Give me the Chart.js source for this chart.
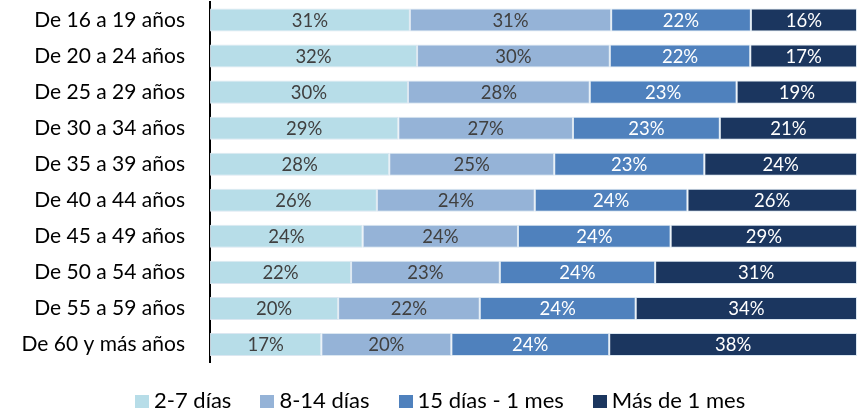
<!DOCTYPE html>
<html>
<head>
<meta charset="utf-8">
<script src="https://cdn.jsdelivr.net/npm/chart.js@4/dist/chart.umd.min.js"></script>
<style>
  html, body { margin: 0; padding: 0; background: #ffffff; }
  #wrap { width: 860px; height: 410px; position: relative; overflow: hidden; }
  #legend { position: absolute; left: 135px; top: 388px; height: 24px; display: flex; gap: 29px;
            font-family: Lato, sans-serif; font-size: 22px; line-height: 24px; color: #000; white-space: nowrap; }
  .item { display: flex; align-items: center; }
  .box { width: 14px; height: 13px; margin-right: 5px; margin-top: 3px; }
</style>
</head>
<body>
<div id="wrap"><canvas id="c" width="860" height="410"></canvas><div id="legend"></div></div>
<script>
const categories = [
  "De 16 a 19 años", "De 20 a 24 años", "De 25 a 29 años", "De 30 a 34 años",
  "De 35 a 39 años", "De 40 a 44 años", "De 45 a 49 años", "De 50 a 54 años",
  "De 55 a 59 años", "De 60 y más años"
];
const seriesNames = ["2-7 días", "8-14 días", "15 días - 1 mes", "Más de 1 mes"];
const s1 = [30.9, 32.0, 30.6, 29.1, 27.7, 25.8, 23.6, 21.8, 19.8, 17.2];
const s2 = [31.1, 29.8, 28.1, 27.0, 25.5, 24.4, 24.0, 23.0, 21.9, 20.1];
const s3 = [21.6, 21.7, 22.7, 22.7, 23.2, 23.6, 23.6, 24.0, 24.1, 24.4];
const s4 = [16.4, 16.5, 18.6, 21.2, 23.6, 26.2, 28.8, 31.2, 34.2, 38.3];
const labels1 = ["31%", "32%", "30%", "29%", "28%", "26%", "24%", "22%", "20%", "17%"];
const labels2 = ["31%", "30%", "28%", "27%", "25%", "24%", "24%", "23%", "22%", "20%"];
const labels3 = ["22%", "22%", "23%", "23%", "23%", "24%", "24%", "24%", "24%", "24%"];
const labels4 = ["16%", "17%", "19%", "21%", "24%", "26%", "29%", "31%", "34%", "38%"];

const colors = ["#b7dde8", "#95b3d7", "#4f81bd", "#1b365f"];
const textColors = ["#404040", "#404040", "#ffffff", "#ffffff"];
const allValues = [s1, s2, s3, s4];
const allLabels = [labels1, labels2, labels3, labels4];

const labelPlugin = {
  id: 'segLabels',
  afterDatasetsDraw(chart) {
    const ctx = chart.ctx;
    ctx.save();
    ctx.font = '18.5px Lato';
    ctx.textAlign = 'center';
    ctx.textBaseline = 'middle';
    chart.data.datasets.forEach((ds, di) => {
      const meta = chart.getDatasetMeta(di);
      meta.data.forEach((bar, i) => {
        const p = bar.getProps(['x', 'y', 'base'], true);
        ctx.fillStyle = textColors[di];
        ctx.fillText(allLabels[di][i], (p.x + p.base) / 2, p.y + 1);
      });
    });
    ctx.restore();
  }
};

const chart = new Chart(document.getElementById('c'), {
  type: 'bar',
  data: {
    labels: categories,
    datasets: seriesNames.map((n, k) => ({
      label: n,
      data: allValues[k],
      backgroundColor: colors[k],
      borderColor: 'rgba(215,228,240,0.9)',
      borderWidth: 1,
      borderSkipped: false,
      categoryPercentage: 0.64,
      barPercentage: 1.0
    }))
  },
  options: {
    indexAxis: 'y',
    responsive: false,
    animation: false,
    layout: { padding: { left: 10, right: 3, top: 2, bottom: 47.5 } },
    scales: {
      x: { display: false, stacked: true, min: 0, max: 100 },
      y: {
        stacked: true,
        grid: { display: false, drawTicks: true, tickLength: 23 },
        border: { display: true, color: '#000000', width: 2 },
        ticks: { color: '#000000', font: { family: 'Lato', size: 21 }, padding: 2 },
        afterFit(scale) { scale.width = 200; scale.paddingTop = 0; scale.paddingBottom = 0; }
      }
    },
    plugins: {
      legend: { display: false },
      tooltip: { enabled: false }
    }
  },
  plugins: [labelPlugin]
});

const legendEl = document.getElementById('legend');
seriesNames.forEach((n, k) => {
  const item = document.createElement('span');
  item.className = 'item';
  const box = document.createElement('span');
  box.className = 'box';
  box.style.background = colors[k];
  const txt = document.createElement('span');
  txt.textContent = n;
  item.appendChild(box);
  item.appendChild(txt);
  legendEl.appendChild(item);
});
</script>
</body>
</html>
